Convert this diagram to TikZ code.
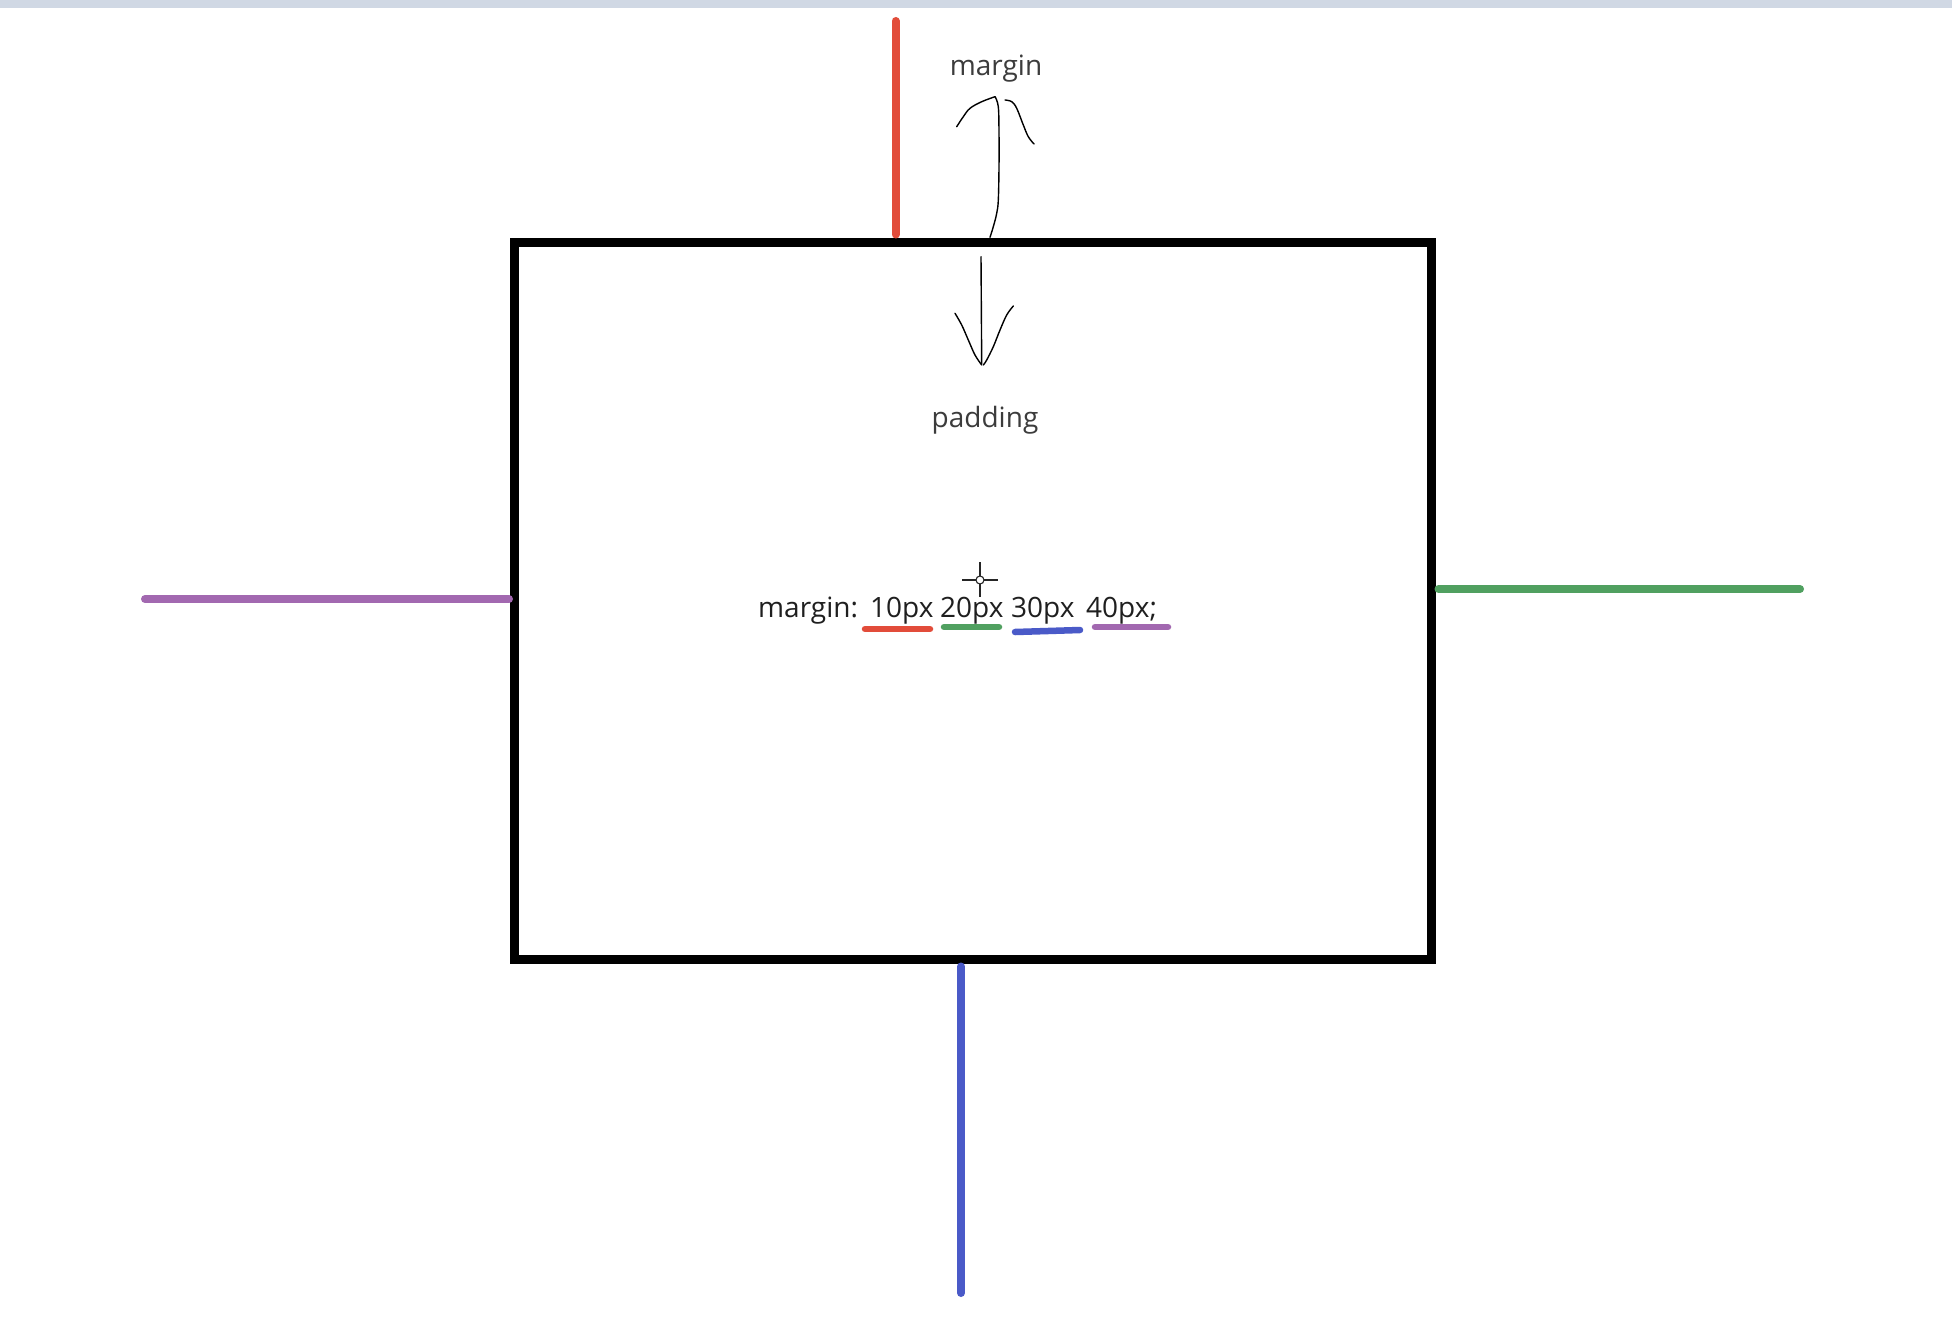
\documentclass[tikz,border=0pt]{standalone}
\usepackage{fontspec}
\setmainfont{Open Sans}
\usetikzlibrary{calc}
\definecolor{barcol}{RGB}{208,216,228}
\definecolor{mred}{RGB}{226,76,58}
\definecolor{mgreen}{RGB}{80,160,96}
\definecolor{mblue}{RGB}{74,90,200}
\definecolor{mpurple}{RGB}{162,104,176}
\definecolor{lblgray}{RGB}{60,60,60}
\begin{document}
\begin{tikzpicture}[x=1pt,y=-1pt,
  lbl/.style={inner sep=0pt, font=\fontsize{28}{34}\selectfont, text=lblgray},
  codeword/.style={inner sep=0pt, font=\fontsize{28}{34}\selectfont, text=black!88, anchor=base west},
  sideline/.style={line width=8pt, line cap=round, shorten >=3pt},
  underl/.style={line width=6.5pt, line cap=round},
  pen/.style={line width=1.4pt, line cap=round, line join=round, black},
  boxstyle/.style={draw=black, line width=9pt, minimum width=916.5pt, minimum height=717pt, inner sep=0pt, outer sep=4.5pt}
]
\useasboundingbox (0,0) rectangle (1952,1322);
\fill[white] (0,0) rectangle (1952,1322);
\fill[barcol] (0,0) rectangle (1952,8);

% main box
\node[boxstyle] (box) at (972.75,600.5) {};

% side lines
\coordinate (rtop) at (895.5,21);
\coordinate (pleft) at (145,599);
\coordinate (gright) at (1800,589);
\coordinate (bbot) at (961,1293);
\draw[sideline, mred] (rtop) -- (rtop |- box.north);
\draw[sideline, mpurple, shorten >=1pt] (pleft) -- (pleft -| box.west);
\draw[sideline, mgreen] (gright) -- (gright -| box.east);
\draw[sideline, mblue] (bbot) -- (bbot |- box.south);

% labels
\node[lbl, anchor=base] (mlabel) at (996,75) {margin};
\node[lbl, anchor=base] (plabel) at (985,427) {padding};

% hand-drawn margin arrow (up)
\draw[pen] plot[smooth, tension=0.6] coordinates {(990,237.3) (993.3,226.7) (996.7,213.3) (998.3,200) (999,166.7) (999,133.3) (998.3,106.7) (995,96.7)};
\draw[pen] plot[smooth, tension=0.6] coordinates {(956.7,126.7) (963.3,116.7) (970,108.3) (981.7,101.7) (995,96.7)};
\draw[pen] plot[smooth, tension=0.6] coordinates {(1005,100) (1011.7,101.7) (1016.7,108.3) (1023.3,125) (1028.3,136.7) (1034,144)};

% hand-drawn padding arrow (down)
\draw[pen] (981,256.7) -- (981.7,364);
\draw[pen] plot[smooth, tension=0.6] coordinates {(955,313.3) (961.7,325) (968.3,340) (975,355) (981.7,365)};
\draw[pen] plot[smooth, tension=0.6] coordinates {(1013.3,306) (1006.7,315) (1000,330) (993.3,346.7) (986.7,360) (983.3,365)};

% code text
\node[codeword] (w0) at (758,617) {margin:};
\node[codeword] (w1) at (870,617) {10px};
\node[codeword] (w2) at (940,617) {20px};
\node[codeword] (w3) at (1011,617) {30px};
\node[codeword] (w4) at (1086,617) {40px;};

% underlines
\draw[underl, mred] (865,629) -- (930,629);
\draw[underl, mgreen] (944,627) -- (999,627);
\draw[underl, mblue] (1015,632) -- (1048,631) -- (1080,630);
\draw[underl, mpurple] (1095,627) -- (1168,627);

% cursor crosshair
\coordinate (cur) at (980,580);
\draw[line width=1.3pt, black!85] ($(cur)+(0,-18)$) -- ($(cur)+(0,-4)$);
\draw[line width=1.3pt, black!85] ($(cur)+(0,4)$) -- ($(cur)+(0,17)$);
\draw[line width=1.3pt, black!85] ($(cur)+(-18,0)$) -- ($(cur)+(-4,0)$);
\draw[line width=1.3pt, black!85] ($(cur)+(4,0)$) -- ($(cur)+(18,0)$);
\draw[line width=1.1pt, black!85] (cur) circle (4);
\end{tikzpicture}
\end{document}
